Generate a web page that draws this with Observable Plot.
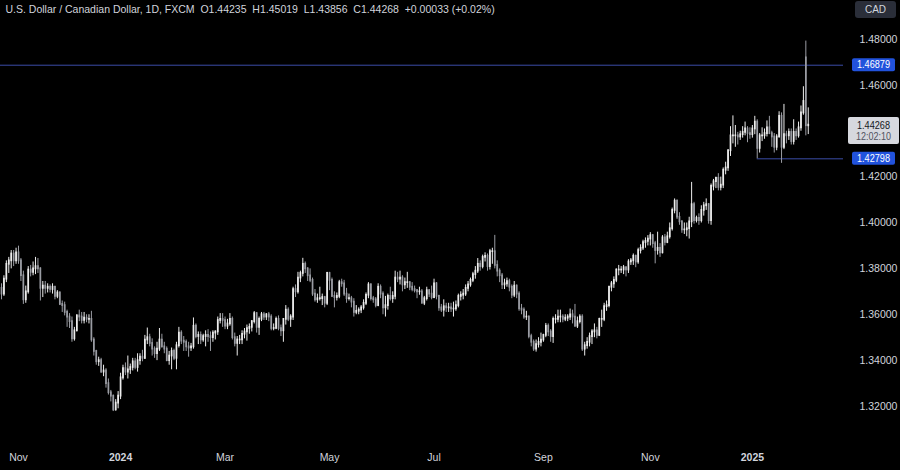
<!DOCTYPE html>
<html><head><meta charset="utf-8">
<script src="https://cdn.jsdelivr.net/npm/d3@7"></script>
<script src="https://cdn.jsdelivr.net/npm/@observablehq/plot@0.6"></script>
<style>
html,body{margin:0;padding:0;background:#000;}
#chart{width:900px;height:470px;overflow:hidden;}
</style></head><body><div id="chart"></div>
<script>
// ---- calendar (daily bars, weekdays, FX holidays skipped) ----
const startDate = "2023-10-23";
const endDate = "2025-02-04";
const holidays = ["12-25", "01-01"];

// ---- OHLC values (one line per month) ----
const opens = [
1.3715,1.3690,1.3755,1.3820,1.3835,1.3865,1.3835,
1.3870,1.3835,1.3770,1.3665,1.3700,1.3795,1.3785,1.3800,1.3810,1.3800,1.3715,1.3725,1.3715,1.3720,1.3710,1.3720,1.3680,1.3695,1.3645,1.3640,1.3610,1.3590,
1.3570,1.3495,1.3530,1.3595,1.3590,1.3575,1.3585,1.3580,1.3580,1.3490,1.3440,1.3395,1.3400,1.3350,1.3355,1.3300,1.3260,1.3245,1.3185,1.3215,
1.3245,1.3325,1.3365,1.3350,1.3360,1.3370,1.3395,1.3370,1.3400,1.3415,1.3410,1.3490,1.3500,1.3475,1.3450,1.3430,1.3450,1.3490,1.3460,1.3450,1.3400,1.3420,
1.3440,1.3410,1.3465,1.3520,1.3485,1.3480,1.3460,1.3455,1.3460,1.3550,1.3505,1.3510,1.3490,1.3505,1.3510,1.3505,1.3500,1.3520,1.3525,1.3575,1.3580,
1.3575,1.3550,1.3560,1.3580,1.3500,1.3475,1.3490,1.3490,1.3515,1.3525,1.3540,1.3545,1.3570,1.3605,1.3545,1.3580,1.3600,1.3590,1.3600,1.3590,1.3540,
1.3540,1.3580,1.3540,1.3530,1.3580,1.3620,1.3580,1.3590,1.3710,1.3700,1.3760,1.3780,1.3820,1.3800,1.3770,1.3750,1.3690,1.3665,1.3670,1.3670,1.3675,1.3650,
1.3780,1.3750,1.3680,1.3675,1.3680,1.3740,1.3735,1.3690,1.3670,1.3670,1.3655,1.3610,1.3615,1.3620,1.3630,1.3650,1.3685,1.3730,1.3670,1.3665,1.3640,1.3720,1.3690,
1.3630,1.3640,1.3680,1.3670,1.3680,1.3760,1.3755,1.3760,1.3730,1.3740,1.3740,1.3720,1.3710,1.3705,1.3700,1.3700,1.3650,1.3670,1.3705,1.3690,
1.3675,1.3735,1.3680,1.3630,1.3620,1.3635,1.3630,1.3630,1.3625,1.3625,1.3640,1.3680,1.3685,1.3690,1.3715,1.3730,1.3750,1.3775,1.3790,1.3820,1.3810,1.3850,1.3855,
1.3810,1.3875,1.3875,1.3815,1.3790,1.3770,1.3730,1.3735,1.3745,1.3720,1.3685,1.3725,1.3690,1.3625,1.3620,1.3590,1.3590,1.3505,1.3480,1.3450,1.3470,1.3480,
1.3490,1.3510,1.3550,1.3525,1.3505,1.3580,1.3580,1.3590,1.3590,1.3580,1.3585,1.3590,1.3600,1.3590,1.3550,1.3570,1.3590,1.3450,1.3465,1.3480,1.3505,
1.3525,1.3530,1.3510,1.3580,1.3580,1.3635,1.3640,1.3720,1.3735,1.3750,1.3795,1.3795,1.3795,1.3805,1.3795,1.3830,1.3835,1.3855,1.3830,1.3880,1.3890,1.3915,1.3920,
1.3930,1.3945,1.3910,1.3880,1.3890,1.3870,1.3935,1.3915,1.3940,1.3975,1.4055,1.4095,1.4025,1.4005,1.3970,1.3970,1.3975,1.4005,1.4080,1.4010,1.4020,
1.4010,1.4055,1.4075,1.4080,1.4010,1.4160,1.4180,1.4195,1.4155,1.4165,1.4230,1.4240,1.4315,1.4380,1.4380,1.4380,1.4375,1.4385,1.4395,1.4410,1.4390,
1.4385,1.4410,1.4440,1.4325,1.4380,1.4380,1.4390,1.4415,1.4390,1.4375,1.4330,1.4375,1.4465,1.4330,1.4385,1.4380,1.4395,1.4355,1.4395,1.4380,1.4415,1.4480,
1.4720,1.44235];

const highs = [
1.3735,1.3770,1.3835,1.3850,1.3880,1.3880,1.3890,
1.3899,1.3845,1.3790,1.3725,1.3810,1.3815,1.3830,1.3850,1.3845,1.3805,1.3745,1.3745,1.3735,1.3730,1.3735,1.3725,1.3705,1.3700,1.3660,1.3655,1.3620,1.3605,
1.3590,1.3545,1.3600,1.3620,1.3610,1.3610,1.3600,1.3600,1.3615,1.3500,1.3445,1.3415,1.3410,1.3380,1.3365,1.3320,1.3270,1.3250,1.3230,1.3265,
1.3345,1.3380,1.3390,1.3420,1.3385,1.3410,1.3410,1.3430,1.3430,1.3445,1.3510,1.3542,1.3515,1.3495,1.3460,1.3480,1.3540,1.3515,1.3480,1.3460,1.3440,1.3455,
1.3450,1.3480,1.3545,1.3530,1.3505,1.3490,1.3480,1.3475,1.3586,1.3560,1.3525,1.3525,1.3515,1.3530,1.3535,1.3525,1.3530,1.3530,1.3590,1.3605,1.3605,
1.3590,1.3580,1.3605,1.3590,1.3520,1.3505,1.3510,1.3530,1.3540,1.3555,1.3560,1.3575,1.3614,1.3610,1.3590,1.3610,1.3610,1.3605,1.3610,1.3600,1.3560,
1.3590,1.3595,1.3555,1.3560,1.3640,1.3630,1.3600,1.3720,1.3730,1.3785,1.3790,1.3846,1.3830,1.3805,1.3800,1.3760,1.3710,1.3690,1.3720,1.3690,1.3680,1.3785,
1.3785,1.3760,1.3700,1.3695,1.3750,1.3755,1.3750,1.3715,1.3690,1.3680,1.3670,1.3640,1.3630,1.3640,1.3665,1.3695,1.3740,1.3735,1.3680,1.3675,1.3735,1.3730,1.3700,
1.3680,1.3690,1.3720,1.3700,1.3790,1.3785,1.3790,1.3770,1.3760,1.3785,1.3745,1.3740,1.3725,1.3710,1.3720,1.3710,1.3680,1.3720,1.3710,1.3725,
1.3755,1.3740,1.3685,1.3645,1.3665,1.3650,1.3650,1.3650,1.3655,1.3660,1.3690,1.3700,1.3710,1.3730,1.3745,1.3760,1.3785,1.3810,1.3845,1.3835,1.3860,1.3870,1.3865,
1.3885,1.3890,1.3946,1.3835,1.3800,1.3780,1.3755,1.3760,1.3755,1.3730,1.3745,1.3730,1.3700,1.3645,1.3630,1.3615,1.3595,1.3515,1.3490,1.3490,1.3500,1.3520,
1.3515,1.3562,1.3560,1.3535,1.3590,1.3600,1.3620,1.3620,1.3600,1.3600,1.3600,1.3625,1.3620,1.3645,1.3590,1.3600,1.3600,1.3480,1.3500,1.3520,1.3535,
1.3560,1.3545,1.3585,1.3620,1.3650,1.3660,1.3725,1.3745,1.3765,1.3800,1.3815,1.3810,1.3815,1.3810,1.3840,1.3845,1.3865,1.3860,1.3890,1.3905,1.3925,1.3935,1.3945,
1.3958,1.3950,1.3920,1.3960,1.3910,1.3945,1.3950,1.3960,1.4000,1.4065,1.4105,1.4100,1.4045,1.4010,1.4000,1.4000,1.4025,1.4177,1.4090,1.4030,1.4040,
1.4075,1.4090,1.4105,1.4085,1.4170,1.4190,1.4200,1.4215,1.4200,1.4240,1.4265,1.4320,1.4420,1.4467,1.4425,1.4395,1.4400,1.4420,1.4440,1.4420,1.4415,
1.4425,1.4465,1.4450,1.4390,1.4415,1.4410,1.4445,1.4465,1.4400,1.4390,1.4385,1.4485,1.4480,1.4517,1.4400,1.4410,1.4410,1.4450,1.4410,1.4440,1.4510,1.4594,
1.4793,1.45019];

const lows = [
1.3665,1.3680,1.3740,1.3780,1.3800,1.3810,1.3820,
1.3820,1.3745,1.3645,1.3650,1.3690,1.3765,1.3770,1.3775,1.3780,1.3660,1.3675,1.3690,1.3695,1.3695,1.3690,1.3665,1.3670,1.3640,1.3610,1.3595,1.3545,1.3540,
1.3480,1.3485,1.3525,1.3570,1.3560,1.3560,1.3565,1.3560,1.3480,1.3420,1.3380,1.3375,1.3345,1.3330,1.3280,1.3250,1.3220,1.3178,1.3180,1.3190,
1.3230,1.3315,1.3335,1.3320,1.3340,1.3355,1.3360,1.3350,1.3380,1.3395,1.3405,1.3470,1.3460,1.3420,1.3410,1.3400,1.3440,1.3455,1.3430,1.3395,1.3380,1.3360,
1.3400,1.3360,1.3455,1.3470,1.3440,1.3440,1.3415,1.3440,1.3450,1.3495,1.3470,1.3470,1.3480,1.3460,1.3480,1.3440,1.3480,1.3490,1.3510,1.3560,1.3545,
1.3535,1.3535,1.3550,1.3490,1.3460,1.3420,1.3470,1.3470,1.3495,1.3485,1.3515,1.3525,1.3560,1.3520,1.3510,1.3570,1.3575,1.3575,1.3570,1.3530,1.3530,
1.3535,1.3530,1.3505,1.3480,1.3555,1.3570,1.3545,1.3575,1.3675,1.3690,1.3740,1.3765,1.3780,1.3745,1.3740,1.3680,1.3655,1.3650,1.3660,1.3640,1.3630,1.3640,
1.3705,1.3675,1.3630,1.3660,1.3670,1.3720,1.3680,1.3650,1.3660,1.3630,1.3590,1.3600,1.3600,1.3605,1.3620,1.3640,1.3670,1.3660,1.3650,1.3630,1.3635,1.3670,1.3600,
1.3590,1.3620,1.3660,1.3650,1.3665,1.3740,1.3730,1.3700,1.3710,1.3715,1.3705,1.3700,1.3695,1.3670,1.3685,1.3650,1.3640,1.3660,1.3675,1.3665,
1.3670,1.3665,1.3615,1.3610,1.3590,1.3610,1.3610,1.3610,1.3590,1.3615,1.3630,1.3660,1.3665,1.3680,1.3700,1.3720,1.3740,1.3755,1.3780,1.3790,1.3800,1.3830,1.3790,
1.3795,1.3820,1.3800,1.3765,1.3740,1.3710,1.3710,1.3720,1.3700,1.3670,1.3675,1.3670,1.3615,1.3600,1.3580,1.3575,1.3495,1.3460,1.3440,1.3437,1.3455,1.3460,
1.3480,1.3500,1.3505,1.3480,1.3475,1.3560,1.3565,1.3565,1.3565,1.3570,1.3570,1.3575,1.3560,1.3545,1.3540,1.3560,1.3440,1.3420,1.3450,1.3460,1.3470,
1.3500,1.3495,1.3505,1.3545,1.3570,1.3615,1.3630,1.3700,1.3715,1.3740,1.3770,1.3780,1.3775,1.3765,1.3780,1.3815,1.3815,1.3805,1.3820,1.3865,1.3880,1.3890,1.3900,
1.3900,1.3890,1.3822,1.3860,1.3850,1.3865,1.3900,1.3910,1.3930,1.3965,1.4040,1.4015,1.3990,1.3955,1.3950,1.3940,1.3930,1.3980,1.3995,1.4000,1.3990,
1.4000,1.4030,1.4055,1.3995,1.3990,1.4140,1.4150,1.4140,1.4140,1.4150,1.4210,1.4225,1.4290,1.4345,1.4330,1.4340,1.4360,1.4370,1.4380,1.4350,1.4365,
1.4370,1.4385,1.4280,1.4305,1.4355,1.4365,1.4375,1.4385,1.4330,1.4305,1.4315,1.4370,1.4260,1.4320,1.4345,1.4360,1.4340,1.4340,1.4360,1.4370,1.4400,1.4470,
1.4380,1.43856];

const closes = [
1.3690,1.3755,1.3820,1.3835,1.3865,1.3835,1.3870,
1.3835,1.3770,1.3665,1.3700,1.3795,1.3785,1.3800,1.3810,1.3800,1.3715,1.3725,1.3715,1.3720,1.3710,1.3720,1.3680,1.3695,1.3645,1.3640,1.3610,1.3590,1.3570,
1.3495,1.3530,1.3595,1.3590,1.3575,1.3585,1.3580,1.3580,1.3490,1.3440,1.3395,1.3400,1.3350,1.3355,1.3300,1.3260,1.3245,1.3185,1.3215,1.3245,
1.3325,1.3365,1.3350,1.3360,1.3370,1.3395,1.3370,1.3400,1.3415,1.3410,1.3490,1.3500,1.3475,1.3450,1.3430,1.3450,1.3490,1.3460,1.3450,1.3400,1.3420,1.3440,
1.3410,1.3465,1.3520,1.3485,1.3480,1.3460,1.3455,1.3460,1.3550,1.3505,1.3510,1.3490,1.3505,1.3510,1.3505,1.3500,1.3520,1.3525,1.3575,1.3580,1.3575,
1.3550,1.3560,1.3580,1.3500,1.3475,1.3490,1.3490,1.3515,1.3525,1.3540,1.3545,1.3570,1.3605,1.3545,1.3580,1.3600,1.3590,1.3600,1.3590,1.3540,1.3540,
1.3580,1.3540,1.3530,1.3580,1.3620,1.3580,1.3590,1.3710,1.3700,1.3760,1.3780,1.3820,1.3800,1.3770,1.3750,1.3690,1.3665,1.3670,1.3670,1.3675,1.3650,1.3780,
1.3750,1.3680,1.3675,1.3680,1.3740,1.3735,1.3690,1.3670,1.3670,1.3655,1.3610,1.3615,1.3620,1.3630,1.3650,1.3685,1.3730,1.3670,1.3665,1.3640,1.3720,1.3690,1.3630,
1.3640,1.3680,1.3670,1.3680,1.3760,1.3755,1.3760,1.3730,1.3740,1.3740,1.3720,1.3710,1.3705,1.3700,1.3700,1.3650,1.3670,1.3705,1.3690,1.3675,
1.3735,1.3680,1.3630,1.3620,1.3635,1.3630,1.3630,1.3625,1.3625,1.3640,1.3680,1.3685,1.3690,1.3715,1.3730,1.3750,1.3775,1.3790,1.3820,1.3810,1.3850,1.3855,1.3810,
1.3875,1.3875,1.3815,1.3790,1.3770,1.3730,1.3735,1.3745,1.3720,1.3685,1.3725,1.3690,1.3625,1.3620,1.3590,1.3590,1.3505,1.3480,1.3450,1.3470,1.3480,1.3490,
1.3510,1.3550,1.3525,1.3505,1.3580,1.3580,1.3590,1.3590,1.3580,1.3585,1.3590,1.3600,1.3590,1.3550,1.3570,1.3590,1.3450,1.3465,1.3480,1.3505,1.3525,
1.3530,1.3510,1.3580,1.3580,1.3635,1.3640,1.3720,1.3735,1.3750,1.3795,1.3795,1.3795,1.3805,1.3795,1.3830,1.3835,1.3855,1.3830,1.3880,1.3890,1.3915,1.3920,1.3930,
1.3945,1.3910,1.3880,1.3890,1.3870,1.3935,1.3915,1.3940,1.3975,1.4055,1.4095,1.4025,1.4005,1.3970,1.3970,1.3975,1.4005,1.4080,1.4010,1.4020,1.4010,
1.4055,1.4075,1.4080,1.4010,1.4160,1.4180,1.4195,1.4155,1.4165,1.4230,1.4240,1.4315,1.4380,1.4380,1.4380,1.4375,1.4385,1.4395,1.4410,1.4390,1.4385,
1.4410,1.4440,1.4325,1.4380,1.4380,1.4390,1.4415,1.4390,1.4375,1.4330,1.4375,1.4465,1.4330,1.4385,1.4380,1.4395,1.4355,1.4395,1.4380,1.4415,1.4480,1.4530,
1.4424,1.44268];

// ---- axis labels, levels, header ----
const monthTickDates = ["2023-11-01","2024-01-02","2024-03-01","2024-05-01","2024-07-01","2024-09-02","2024-11-01","2025-01-02"];
const monthTickLabels = ["Nov","2024","Mar","May","Jul","Sep","Nov","2025"];
const yearLabels = ["2024","2025"];
const priceTicks = [1.32, 1.34, 1.36, 1.38, 1.40, 1.42, 1.46, 1.48];
const levelHigh = 1.46879;
const levelLow = 1.42798;
const levelLowStart = "2025-01-06";
const lastPrice = 1.44268;
const countdown = "12:02:10";
const currency = "CAD";
const title = "U.S. Dollar / Canadian Dollar, 1D, FXCM  O1.44235  H1.45019  L1.43856  C1.44268  +0.00033 (+0.02%)";

// ---- build ----
const dates = [];
for (let d = new Date(startDate + "T00:00:00Z"); d <= new Date(endDate + "T00:00:00Z"); d.setUTCDate(d.getUTCDate() + 1)) {
  const wd = d.getUTCDay();
  const iso = d.toISOString().slice(0, 10);
  if (wd === 0 || wd === 6 || holidays.includes(iso.slice(5))) continue;
  dates.push(iso);
}
if (dates.length !== closes.length) console.error("length mismatch", dates.length, closes.length, opens.length, highs.length, lows.length);

const bars = dates.map((date, i) => ({i, date, o: opens[i], h: highs[i], l: lows[i], c: closes[i]}));
const upColor = "#ededed", downColor = "#9a9ca3";
const col = d => d.c >= d.o ? upColor : downColor;

const W = 900, H = 470, mT = 30, mB = 30, mR = 57;
const xDomain = [-0.41, dates.length - 1 + 14.5];
const yDomain = [1.30518, 1.48392];
const ticks = monthTickDates.map((d, j) => ({k: dates.indexOf(d), label: monthTickLabels[j]}));
const lowStartIdx = dates.indexOf(levelLowStart);
const txt = "#d1d4dc";
const font = "'Liberation Sans', Arial, sans-serif";

const plot = Plot.plot({
  width: W, height: H,
  marginTop: mT, marginBottom: mB, marginLeft: 0, marginRight: mR,
  style: {background: "#000", color: txt, fontFamily: font, fontSize: "10.5px", overflow: "visible"},
  x: {domain: xDomain, axis: null},
  y: {domain: yDomain, axis: null},
  marks: [
    Plot.ruleY([levelHigh], {y: d => d, stroke: "#3b4ca6", strokeWidth: 1}),
    Plot.ruleY([levelLow], {y: d => d, x1: () => lowStartIdx, x2: () => xDomain[1], stroke: "#3b4ca6", strokeWidth: 1}),
    Plot.ruleX(bars, {x: "i", y1: "l", y2: "h", stroke: col, strokeWidth: 1}),
    Plot.ruleX(bars, {x: "i", y1: "o", y2: "c", stroke: col, strokeWidth: 1.7, strokeLinecap: "square"}),
    Plot.text(ticks.filter(t => !yearLabels.includes(t.label)), {x: "k", text: "label", frameAnchor: "bottom", dy: 20, fill: txt, fontSize: 10.5}),
    Plot.text(ticks.filter(t => yearLabels.includes(t.label)), {x: "k", text: "label", frameAnchor: "bottom", dy: 20, fill: txt, fontSize: 10.5, fontWeight: "bold"}),
    Plot.text(priceTicks, {y: d => d, text: d => d.toFixed(5), frameAnchor: "right", dx: 16, textAnchor: "start", fill: txt, fontSize: 10.5, ariaLabel: "price-ticks"}),
    Plot.text([title], {text: d => d, frameAnchor: "top-left", dx: 5, dy: -21, lineAnchor: "middle", textAnchor: "start", fill: txt, fontSize: 10.5, ariaLabel: "title"})
  ]
});

const svg = d3.select(plot);
svg.select('g[aria-label="title"] text').attr("textLength", 440).attr("lengthAdjust", "spacingAndGlyphs");
svg.selectAll('g[aria-label="price-ticks"] text').attr("textLength", 33).attr("lengthAdjust", "spacingAndGlyphs");

const ys = plot.scale("y");
const axisLeft = W - mR;
const ov = svg.append("g").attr("font-family", font).attr("text-anchor", "start");
for (const v of [levelHigh, levelLow]) {
  const cy = ys.apply(v);
  ov.append("rect").attr("x", axisLeft + 9).attr("y", cy - 6.5).attr("width", 43).attr("height", 13).attr("rx", 2).attr("fill", "#2152dc");
  ov.append("text").attr("x", axisLeft + 14).attr("y", cy).attr("dy", "0.36em").attr("text-anchor", "start").attr("fill", "#ffffff").attr("font-size", 10.5)
    .attr("textLength", 33).attr("lengthAdjust", "spacingAndGlyphs").text(v.toFixed(5));
}
{
  const cy = ys.apply(lastPrice);
  ov.append("rect").attr("x", axisLeft + 5).attr("y", cy - 7.5).attr("width", 51).attr("height", 27).attr("rx", 2).attr("fill", "#d6d8de");
  ov.append("text").attr("x", axisLeft + 14).attr("y", cy + 0.5).attr("dy", "0.36em").attr("text-anchor", "start").attr("fill", "#131722").attr("font-size", 10.5)
    .attr("textLength", 33).attr("lengthAdjust", "spacingAndGlyphs").text(lastPrice.toFixed(5));
  ov.append("text").attr("x", axisLeft + 13).attr("y", cy + 12).attr("dy", "0.36em").attr("text-anchor", "start").attr("fill", "#50535e").attr("font-size", 10)
    .attr("textLength", 35).attr("lengthAdjust", "spacingAndGlyphs").text(countdown);
}
ov.append("rect").attr("x", axisLeft + 12).attr("y", 1).attr("width", 41).attr("height", 17).attr("rx", 3).attr("fill", "#2a2e39");
ov.append("text").attr("x", axisLeft + 32.5).attr("y", 9.5).attr("dy", "0.36em").attr("text-anchor", "middle").attr("fill", txt).attr("font-size", 10).text(currency);

document.getElementById("chart").appendChild(plot);
</script>
</body></html>
